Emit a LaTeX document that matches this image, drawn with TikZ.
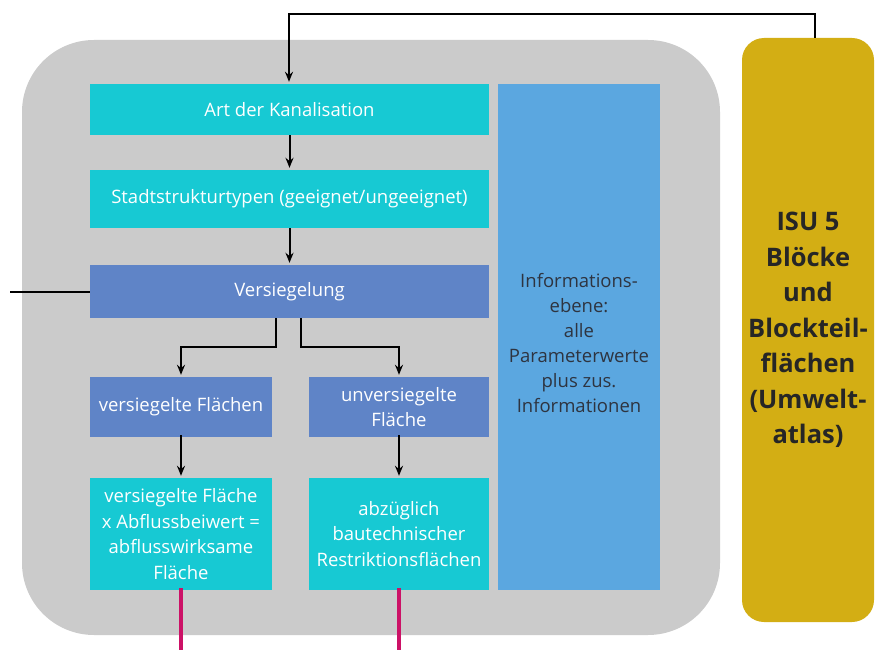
\documentclass[tikz,border=0pt]{standalone}
\usepackage{fontspec}
\setmainfont{Open Sans}
\usetikzlibrary{arrows.meta}
\definecolor{panel}{HTML}{CBCBCB}
\definecolor{cyanbox}{HTML}{17C9D3}
\definecolor{steelbox}{HTML}{5F84C7}
\definecolor{infobox}{HTML}{5BA7E0}
\definecolor{isugold}{HTML}{D3AE14}
\definecolor{outlink}{HTML}{CC1166}
\definecolor{infotext}{HTML}{2E3440}
\begin{document}
\begin{tikzpicture}[x=1pt,y=-1pt,
  base/.style={rectangle, inner sep=2pt, align=center, text=white,
    font=\fontsize{18.5}{25.5}\selectfont},
  cbox/.style={base, fill=cyanbox},
  sbox/.style={base, fill=steelbox},
  link/.style={line width=2pt, black},
  arr/.style={link, -{Stealth[length=10pt,width=8pt]}, shorten >=2pt},
  outl/.style={line width=3.2pt, outlink}]
\useasboundingbox (0,0) rectangle (876,650);

% grey panel behind the processing chain
\fill[panel, rounded corners=72pt] (22,40) rectangle (720,635);

% source data block
\node[fill=isugold, rounded corners=22pt, minimum width=132pt, minimum height=584pt,
  inner sep=0pt, align=center, text=black!85,
  font=\bfseries\fontsize{25.5}{35.5}\selectfont] (isu) at (808,330)
  {ISU 5\\Blöcke\\und\\Blockteil-\\flächen\\(Umwelt-\\atlas)};

% processing chain
\node[cbox, minimum width=399pt, minimum height=51pt] (art) at (289.5,109.5) {Art der Kanalisation};
\node[cbox, minimum width=399pt, minimum height=58pt] (stadt) at (289.5,199) {Stadtstrukturtypen (geeignet/ungeeignet)};
\node[sbox, minimum width=399pt, minimum height=53pt] (vers) at (289.5,291.5) {Versiegelung};
\node[sbox, minimum width=182pt, minimum height=60pt] (vsf) at (181,407) {versiegelte Flächen};
\node[sbox, minimum width=180pt, minimum height=60pt] (uvf) at (399,407) {unversiegelte\\Fläche};
\node[cbox, minimum width=182pt, minimum height=112pt] (vfa) at (181,534) {versiegelte Fläche\\x Abflussbeiwert =\\abflusswirksame\\Fläche};
\node[cbox, minimum width=180pt, minimum height=112pt] (abz) at (399,534) {abzüglich\\bautechnischer\\Restriktionsflächen};

% information layer
\node[fill=infobox, minimum width=162pt, minimum height=506pt, inner sep=0pt] (info) at (579,337) {};
\node[align=center, text=infotext, font=\fontsize{18.5}{25}\selectfont] at ([yshift=-6pt]info.center)
  {Informations-\\ebene:\\alle\\Parameterwerte\\plus zus.\\Informationen};

% connectors
\coordinate (tr) at (815,14);
\coordinate (tl) at (289,14);
\coordinate (lft) at (10,291.5);
\draw[arr] (isu.north -| tr) -- (tr) -- (tl) -- (art.north -| tl);
\draw[arr] (art) -- (stadt);
\draw[arr] (stadt) -- (vers);
\draw[link] (vers.west) -- (lft);
\draw[arr] ([xshift=-13.5pt]vers.south) -- ++(0,29) -| (vsf.north);
\draw[arr] ([xshift=11.5pt]vers.south) -- ++(0,29) -| (uvf.north);
\draw[arr] ([yshift=2pt]vsf.south) -- (vfa.north);
\draw[arr] ([yshift=2pt]uvf.south) -- (abz.north);
\draw[outl] ([yshift=2pt]vfa.south) -- (vfa.south |- 0,650);
\draw[outl] ([yshift=2pt]abz.south) -- (abz.south |- 0,650);
\end{tikzpicture}
\end{document}
